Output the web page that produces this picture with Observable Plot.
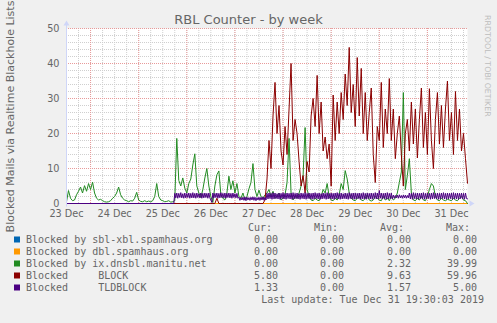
<!DOCTYPE html>
<html><head><meta charset="utf-8">
<script src="https://cdn.jsdelivr.net/npm/d3@7"></script>
<script src="https://cdn.jsdelivr.net/npm/@observablehq/plot@0.6"></script>
<style>html,body{margin:0;padding:0;background:#F0F0F0;overflow:hidden}</style>
</head><body><div id="chart"></div>
<script>
// ---------- texts ----------
const chartTitle = "RBL Counter - by week";
const yAxisLabel = "Blocked Mails via Realtime Blackhole Lists";
const watermark = "RRDTOOL / TOBI OETIKER";
const lastUpdate = "Last update: Tue Dec 31 19:30:03 2019";

// ---------- axes ----------
const rangeStart = "2019-12-23T12:00:00Z";
const rangeEnd = "2019-12-31T20:00:00Z";
const yTicks = [0, 10, 20, 30, 40, 50];
const yMinorTicks = [2,4,6,8,12,14,16,18,22,24,26,28,32,34,36,38,42,44,46,48];
const dayLabels = ["23 Dec","24 Dec","25 Dec","26 Dec","27 Dec","28 Dec","29 Dec","30 Dec","31 Dec"];
const dayLabelTimes = ["2019-12-23T12:00:00Z","2019-12-24T12:00:00Z","2019-12-25T12:00:00Z","2019-12-26T12:00:00Z","2019-12-27T12:00:00Z","2019-12-28T12:00:00Z","2019-12-29T12:00:00Z","2019-12-30T12:00:00Z","2019-12-31T12:00:00Z"];

// ---------- legend ----------
const seriesNames = ["Blocked by sbl-xbl.spamhaus.org","Blocked by dbl.spamhaus.org","Blocked by ix.dnsbl.manitu.net","Blocked     BLOCK","Blocked     TLDBLOCK"];
const seriesColors = ["#0066B3","#FF9900","#228B22","#8B0000","#4B0082"];
const statCur = [0.00, 0.00, 0.00, 5.80, 1.33];
const statMin = [0.00, 0.00, 0.00, 0.00, 0.00];
const statAvg = [0.00, 0.00, 2.32, 9.63, 1.57];
const statMax = [0.00, 0.00, 39.99, 59.96, 5.00];

// ---------- series values ----------
const sblTimes = ["2019-12-23T12:00:00Z","2019-12-31T20:00:00Z"];
const sblValues = [0, 0];
const dblTimes = ["2019-12-23T12:00:00Z","2019-12-31T20:00:00Z"];
const dblValues = [0, 0];

// ix.dnsbl.manitu.net, hourly from 2019-12-23 12:00
const manituStart = "2019-12-23T12:00:00Z";
const manituStepMinutes = 60;
const manituValues = [
 0.5,3.7,1.5,0.8,1,2.5,3.5,4.7,3,5.1,
 3.5,5.7,4,6.1,3,1.5,1,1.2,0.8,0.5,
 0.4,0.5,0.8,1.5,2,3,4.7,2.5,1.5,1,
 0.8,0.5,0.8,0.7,1.5,3.2,1,0.6,0.5,0.8,
 0.5,0.7,0.5,0.8,2,5.7,2,1,0.8,0.5,
 0.6,0.8,0.4,0.5,0.8,18.6,
 6.6,5,7.3,4.4,3,5.7,7,11,14.2,5,
 3,1.7,4,7.3,10,5,2,0.3,5,8.2,
 9.3,2.4,1.5,1,3,7.8,4,6.5,3,5.7,
 2,1.5,3,1,2,4.2,6,11.4,4,2,
 3.8,2,1.5,2.5,
 3,4,2,3.5,1.5,2,3,1,1.5,2.5,
 6,18.6,3,1,2,1.5,3,5,8,21.7,
 4,2,1,0.8,1.5,1,0.8,2,4,3,
 5.7,2,1,0.8,1.5,1,2.5,5.7,4,9.4,
 7,3,1.5,1,0.8,1.5,2,1,0.8,1.5,
 2.5,1,0.7,1,2,1.5,1,0.8,2,1,
 1.5,0.8,2,1,1.5,3,6,9,31.7,4,
 8,12.8,3,1,0.8,1.5,1,2,1,0.8,
 2,4,5.7,5,2,1,0.8,1.5,1,0.8,
 1.2,1,0.8,1.5,1,0.8,1.5,2,1,0.8,
 0
];

// BLOCK, hourly from 2019-12-26 08:00 (zero before)
const blockStart = "2019-12-26T08:00:00Z";
const blockStepMinutes = 60;
const blockValues = [
 0,0,0,0,0,0,0,1.5,0,0,
 0,0,0,0,0,0,0,0,0,0,
 0,0,0,0,0,0,0,0,0,0,
 0,1,
 7,18,10,25,34.6,20,28,15,11,22,
 14,27,40,18,24,20,12,5,8,3,
 12,9,25,30,22,36.6,20,29,15,19,
 12.8,17,5,31,18,29,20,31.7,24,37,
 28,44.6,26,34,22,41.7,25,38.6,20,31.7,
 18,26,33,14,6,22,18,34.6,16,27,
 20,35.7,18,27,12.8,20,25,14,5,20,
 24,15,29,17,27,13,24,33,16,26,
 14,32.8,18,10,24,31.7,17,28,16,27,
 35,18,26,14,32,18,27,15,20,12.8,
 5.8
];

// TLDBLOCK, half-hourly from 2019-12-25 17:30 (zero before)
const tldStart = "2019-12-25T17:30:00Z";
const tldStepMinutes = 30;
const tldValues = [
 0,
 2.9,1.6,3.0,1.5,2.9,1.7, 3.1,1.6,2.8,1.5,3.0,1.6, 2.9,1.7,3.0,1.5,2.9,1.6,
 3.1,1.6,2.9,1.5,3.0,1.7, 2.8,1.6,3.0,1.5,2.9,1.6, 3.0,1.7,2.9,1.5,3.0,1.6,
 1.0,0.3,
 3.0,1.6,2.9,1.7,3.0,1.5, 2.9,1.6,3.1,1.7,2.9,1.6, 3.0,1.5,2.9,1.7,3.0,1.6,
 2.9,1.5,3.0,1.7,2.8,1.6, 2.9,1.5,
 1.8,0.9,1.7,1.0,1.8,0.9,1.9, 0.8,1.8,1.0,1.7,0.9,1.8,1.0,
 1.9,0.9,1.8,0.8,1.7,1.0,1.8, 0.9,1.8,1.0,1.9,0.9,1.8,1.0,
 2.9,1.3,3.0,1.4,2.9,1.2,3.1,1.3, 3.0,1.4,2.8,1.3,3.0,1.2,2.9,1.4,
 3.1,1.3,2.9,1.2,3.0,1.4,2.9,1.3, 3.0,1.2,3.1,1.3,2.9,1.4,3.0,1.3,
 2.8,1.2,3.0,1.4,2.9,1.3,3.1,1.2, 2.9,1.4,3.0,1.3,2.9,1.2,3.0,1.3,
 3.1,1.4,2.9,1.3,3.0,1.2,2.8,1.3, 3.0,1.4,2.9,1.2,3.1,1.3,2.9,1.4,
 3.0,1.3,2.9,1.2,3.0,1.4,3.1,1.3, 2.9,1.2,3.0,1.3,2.8,1.4,3.0,1.3,
 2.9,1.2,3.1,1.4,2.9,1.3,3.0,1.2, 3.0,1.3,2.9,1.4,3.0,1.2,2.9,1.3,
 3.1,1.3,2.9,1.2,3.0,1.4,2.9,1.3, 3.0,1.2,2.9,1.4,3.1,1.3,3.0,1.3,
 3.7,1.5,
 3.0,1.3,2.9,1.4,3.0,1.2,3.1,1.3,2.9,1.4,3.0,1.3,
 2.4,1.5,2.3,1.6,2.4,1.5,2.5,1.6,2.3,1.5,2.4,1.6,2.4,1.5,2.3,1.6,
 3.0,1.3,2.9,1.2,3.1,1.4,2.9,1.3, 3.0,1.2,2.9,1.4,3.0,1.3,3.1,1.2,
 2.9,1.3,3.0,1.4,2.9,1.2,3.0,1.3, 3.1,1.4,2.9,1.3,3.0,1.2,2.9,1.3,
 3.0,1.4,3.1,1.3,2.9,1.2,3.0,1.3, 2.9,1.4,3.0,1.2,3.1,1.3,2.9,1.3,
 3.0,1.2,2.9,1.4,3.0,1.3,2.9,1.2, 3.0,1.4,1.33
];

// ---------- build tables ----------
const t0 = new Date(rangeStart), t1 = new Date(rangeEnd);
function regular(name, start, stepMin, values, leadZero) {
  const s = +new Date(start);
  const rows = values.map((v, i) => ({name, t: new Date(s + i * stepMin * 60000), v}));
  if (leadZero) rows.unshift({name, t: t0, v: 0});
  return rows;
}
function paired(name, times, values) {
  return times.map((t, i) => ({name, t: new Date(t), v: values[i]}));
}
const series = [
  paired(seriesNames[0], sblTimes, sblValues),
  paired(seriesNames[1], dblTimes, dblValues),
  regular(seriesNames[2], manituStart, manituStepMinutes, manituValues, false),
  regular(seriesNames[3], blockStart, blockStepMinutes, blockValues, true),
  regular(seriesNames[4], tldStart, tldStepMinutes, tldValues, true)
];

const xMajor = d3.utcDay.range(d3.utcDay.ceil(t0), t1);
const xMinor = d3.utcHour.every(6).range(d3.utcHour.offset(t0, 6), t1);

const font = "DejaVu Sans, sans-serif";
const textColor = "#666666";
const axisColor = "#CFD6F8";

const plot = Plot.plot({
  width: 497, height: 323,
  marginLeft: 66, marginRight: 30, marginTop: 28, marginBottom: 120,
  style: {background: "#F0F0F0", fontFamily: font, fontSize: "9.7px", color: textColor},
  x: {type: "utc", domain: [t0, t1], axis: null},
  y: {domain: [0, 50], axis: null},
  marks: [
    Plot.frame({fill: "#FFFFFF", stroke: "none"}),
    Plot.ruleY(yMinorTicks, {stroke: "#cfcfcf", strokeDasharray: "1,1"}),
    Plot.ruleX(xMinor, {stroke: "#cfcfcf", strokeDasharray: "1,1"}),
    Plot.ruleY(yTicks.filter(d => d > 0), {stroke: "#e89a9a", strokeDasharray: "1,1"}),
    Plot.ruleX(xMajor, {stroke: "#e89a9a", strokeDasharray: "1,1"}),
    ...series.map((rows, i) => Plot.line(rows, {x: "t", y: "v", stroke: seriesColors[i], strokeWidth: 1})),
    Plot.text(yTicks, {frameAnchor: "left", y: d => d, text: d => String(d), dx: -7, textAnchor: "end", fill: textColor}),
    Plot.text(dayLabelTimes, {x: d => new Date(d), frameAnchor: "bottom", text: (d, i) => dayLabels[i], dy: 10, lineAnchor: "middle", fill: textColor})
  ]
});

document.getElementById("chart").appendChild(plot);

// ---------- decorations (axes, title, legend) ----------
const svg = d3.select(plot);
const xs = plot.scale("x"), ys = plot.scale("y");
const xL = xs.apply(t0), xR = xs.apply(t1), yB = ys.apply(0), yT = ys.apply(50);
const g = svg.append("g").attr("transform", "translate(0.5,0.5)");
g.append("line").attr("x1", xL).attr("x2", xL).attr("y1", yB + 3).attr("y2", yT - 4).attr("stroke", axisColor);
g.append("path").attr("d", `M${xL-3},${yT-3} L${xL},${yT-8} L${xL+3},${yT-3} Z`).attr("fill", axisColor);
g.append("path").attr("d", `M${xR+2},${yB-3} L${xR+7},${yB} L${xR+2},${yB+3} Z`).attr("fill", axisColor);

svg.append("text").attr("x", 248.5).attr("y", 24).attr("text-anchor", "middle")
  .attr("font-family", font).attr("font-size", 13).attr("fill", textColor).text(chartTitle);

svg.append("text").attr("transform", `translate(14,${(yT + yB) / 2 + 1}) rotate(-90)`)
  .attr("text-anchor", "middle").attr("font-family", font).attr("font-size", 11)
  .attr("fill", textColor).text(yAxisLabel);

svg.append("text").attr("transform", "translate(485,15) rotate(90)").attr("text-anchor", "start")
  .attr("font-family", font).attr("font-size", 7.9).attr("fill", "#bdbdbd").text(watermark);

const mono = "DejaVu Sans Mono, monospace";
const lg = svg.append("g").attr("font-family", mono).attr("font-size", 10).attr("fill", textColor)
  .attr("text-anchor", "start").style("white-space", "pre");
const headers = [["Cur:", 272], ["Min:", 338], ["Avg:", 404], ["Max:", 470]];
headers.forEach(([h, x]) => lg.append("text").attr("x", x).attr("y", 231).attr("text-anchor", "end").text(h));
const cols = [[statCur, 278], [statMin, 344], [statAvg, 411], [statMax, 477]];
seriesNames.forEach((name, i) => {
  const y = 243 + 12 * i;
  lg.append("rect").attr("x", 14).attr("y", y - 6.5).attr("width", 6).attr("height", 6).attr("fill", seriesColors[i]);
  lg.append("text").attr("x", 26).attr("y", y).attr("text-anchor", "start").text(name);
  cols.forEach(([arr, x]) => lg.append("text").attr("x", x).attr("y", y).attr("text-anchor", "end").text(arr[i].toFixed(2)));
});
lg.append("text").attr("x", 484).attr("y", 303).attr("text-anchor", "end").text(lastUpdate);
</script></body></html>
